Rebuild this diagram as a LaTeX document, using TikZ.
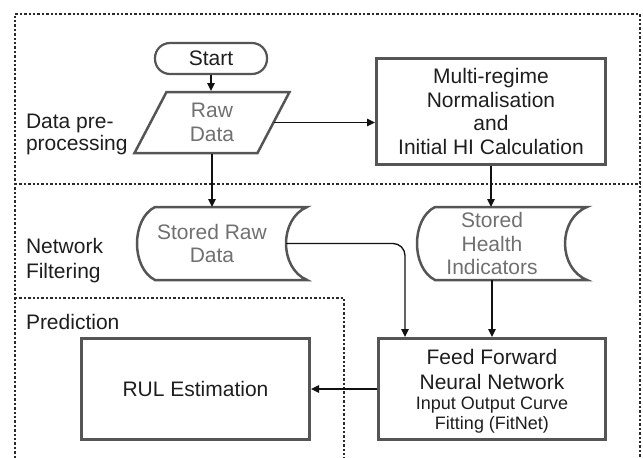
\documentclass[tikz,border=0pt]{standalone}
\usepackage{fontspec}
\setmainfont{Liberation Sans}
\usetikzlibrary{arrows.meta,calc}
\definecolor{shapegray}{HTML}{555555}
\definecolor{datatext}{HTML}{707070}
\definecolor{proctext}{HTML}{1E1E1E}
\definecolor{zoneline}{HTML}{2A2A2A}
\definecolor{connline}{HTML}{111111}
\begin{document}
\begin{tikzpicture}[x=1pt,y=-1pt,
  every node/.style={font=\fontsize{21}{23.7}\selectfont, inner sep=0pt, outer sep=0pt},
  zone/.style={draw=zoneline, line width=1.2pt, dash pattern=on 2.4pt off 2pt},
  startbox/.style={draw=shapegray, line width=2.2pt, rounded corners=15pt, minimum width=112pt, minimum height=31pt, text=proctext, outer sep=1.1pt},
  procbox/.style={draw=shapegray, line width=3pt, text=proctext, align=center, outer sep=1.5pt},
  datashape/.style={draw=shapegray, line width=2.5pt, line join=miter},
  datatxt/.style={text=datatext, align=center},
  zonelabel/.style={text=proctext, align=left, anchor=west},
  conn/.style={draw=connline, line width=1.3pt, -{Triangle[length=8pt,width=7.5pt]}},
]
\useasboundingbox (0,0) rectangle (643,458);

% zones
\draw[zone] (15,458) -- (15,14) -- (640,14) -- (640,458);
\draw[zone] (15,184) -- (640,184);
\draw[zone] (15,298) -- (344,298) -- (344,458);

% zone labels
\node[zonelabel, font=\fontsize{21}{22}\selectfont] (labpre) at (26,134) {Data pre-\\processing};
\node[zonelabel, font=\fontsize{21}{25}\selectfont] (labnet) at (26,260.5) {Network\\Filtering};
\node[zonelabel] (labpred) at (26,322) {Prediction};

% start
\node[startbox] (start) at (211,58.5) {Start};

% raw data parallelogram
\node[datatxt, minimum height=63pt] (raw) at (212,122.5) {Raw\\Data};
\draw[datashape] ($(raw)+(-45.5,-30.5)$) -- ($(raw)+(77.5,-30.5)$) -- ($(raw)+(45.5,30.5)$) -- ($(raw)+(-77.5,30.5)$) -- cycle;
\coordinate (rawE) at ($(raw)+(62,0)$);

% multi-regime box
\node[procbox, minimum width=229pt, minimum height=106pt] (multi) at (491,111.5)
  {Multi-regime\\Normalisation\\and\\Initial HI Calculation};

% stored raw data
\node[datatxt, minimum height=73pt] (srd) at (212,243.5) {Stored Raw\\Data};
\draw[datashape] (155,207) -- (307,207) .. controls (279,219) and (279,268) .. (307,280)
  -- (155,280) .. controls (131,268) and (131,219) .. (155,207) -- cycle;
\coordinate (srdout) at (286,243.5);

% stored health indicators
\node[datatxt, minimum height=73pt] (shi) at (492,243.5) {Stored\\Health\\Indicators};
\draw[datashape] (435,207) -- (587,207) .. controls (557.7,219) and (557.7,268) .. (587,280)
  -- (435,280) .. controls (411,268) and (411,219) .. (435,207) -- cycle;

% feed forward NN
\node[procbox, minimum width=227pt, minimum height=101pt] (ffnn) at (492,389) {};
\node[text=proctext, align=center, font=\fontsize{21}{25}\selectfont] (ffnnA) at (492,369.5) {Feed Forward\\Neural Network};
\node[text=proctext, align=center, font=\fontsize{18}{20}\selectfont] (ffnnB) at (492,415) {Input Output Curve\\Fitting (FitNet)};
\coordinate (ffnnin) at (405,337);

% RUL estimation
\node[procbox, minimum width=228pt, minimum height=101pt] (rul) at (195.5,389) {RUL Estimation};

% connectors
\draw[conn] (start.south) -- (start.south |- raw.north);
\draw[conn] (rawE) -- (rawE -| multi.west);
\draw[conn] (raw.south) -- (raw.south |- srd.north);
\draw[conn] (multi.south) -- (multi.south |- shi.north);
\draw[conn, rounded corners=12pt] (srdout) -| (ffnnin);
\draw[conn] (shi.south) -- (shi.south |- ffnn.north);
\draw[conn] (ffnn.west) -- (rul.east);
\end{tikzpicture}
\end{document}
